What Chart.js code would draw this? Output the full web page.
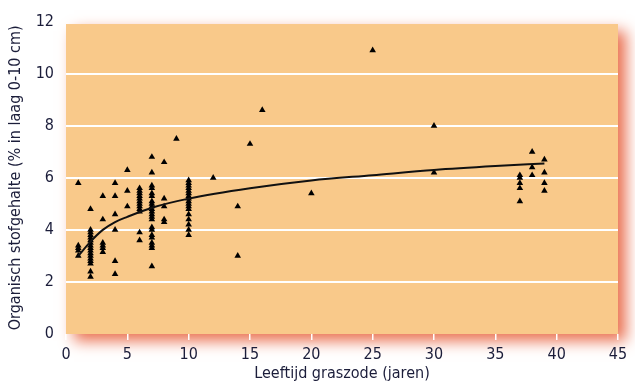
<!DOCTYPE html>
<html>
<head>
<meta charset="utf-8">
<script src="https://cdn.jsdelivr.net/npm/chart.js@4"></script>
<style>
  html, body { margin: 0; padding: 0; background: #ffffff; }
  #wrap { width: 635px; height: 385px; }
</style>
</head>
<body>
<div id="wrap"><canvas id="c" width="635" height="385"></canvas></div>
<script>
// Observed points: age of sward (years) and organic matter (% in 0-10 cm layer)
const ageYears = [
  1,1,1,1,1,
  2,2,2,2,2,2,2,2,2,2,2,2,2,2,2,2,2,
  3,3,3,3,3,3,
  4,4,4,4,4,4,
  5,5,5,
  6,6,6,6,6,6,6,6,6,6,6,6,
  7,7,7,7,7,7,7,7,7,7,7,7,7,7,7,7,7,7,7,7,7,7,
  8,8,8,8,8,
  9,
  10,10,10,10,10,10,10,10,10,10,10,10,10,10,10,10,10,
  12,
  14,14,
  15,
  16,
  20,
  25,
  30,30,
  37,37,37,37,37,
  38,38,38,
  39,39,39,39
];
const organicMatter = [
  5.8,3.4,3.3,3.2,3.0,
  4.8,4.0,3.9,3.8,3.7,3.6,3.5,3.4,3.3,3.2,3.1,3.0,2.9,2.8,2.7,2.4,2.2,
  5.3,4.4,3.5,3.4,3.3,3.15,
  5.8,5.3,4.6,4.0,2.8,2.3,
  6.3,5.5,4.9,
  5.6,5.5,5.4,5.3,5.2,5.1,5.0,4.9,4.8,4.7,3.9,3.6,
  6.8,6.2,5.7,5.6,5.4,5.3,5.1,5.0,4.9,4.8,4.7,4.6,4.5,4.4,4.1,4.0,3.8,3.7,3.5,3.4,3.3,2.6,
  6.6,5.2,4.9,4.4,4.3,
  7.5,
  5.9,5.8,5.7,5.6,5.5,5.4,5.3,5.2,5.1,5.0,4.9,4.8,4.6,4.4,4.2,4.0,3.8,
  6.0,
  4.9,3.0,
  7.3,
  8.6,
  5.4,
  10.9,
  8.0,6.2,
  6.1,6.0,5.8,5.6,5.1,
  7.0,6.4,6.1,
  6.7,6.2,5.8,5.5
];
// Trend curve
const trendAges   = [1,   2,    3,   4,   5,   7,    10,  15,  20,  25,  30,  35,   39];
const trendValues = [3.0, 3.55, 4.0, 4.3, 4.5, 4.85, 5.2, 5.6, 5.9, 6.1, 6.3, 6.45, 6.55];

const xTicks = [0,5,10,15,20,25,30,35,40,45];
const yTicks = [0,2,4,6,8,10,12];

const FONT = '"Liberation Sans Narrow", "DejaVu Sans Condensed", "Roboto Condensed", sans-serif';
const TEXT = '#1b1d3a';

const points = ageYears.map((a, i) => ({x: a, y: organicMatter[i]}));
const trend = trendAges.map((a, i) => ({x: a, y: trendValues[i]}));

const panelPlugin = {
  id: 'panel',
  beforeDraw(chart) {
    const {ctx, chartArea, scales} = chart;
    const top = scales.y.getPixelForValue(11.9);
    const left = chartArea.left, right = chartArea.right, bottom = chartArea.bottom;
    ctx.save();
    ctx.shadowColor = 'rgba(234,112,80,1)';
    ctx.shadowBlur = 14;
    ctx.shadowOffsetX = 8;
    ctx.shadowOffsetY = 7;
    ctx.fillStyle = '#f9c98a';
    ctx.fillRect(left, top, right - left, bottom - top);
    ctx.restore();
    ctx.save();
    ctx.fillStyle = '#f9c98a';
    ctx.fillRect(left, top, right - left, bottom - top);
    ctx.restore();
  }
};

new Chart(document.getElementById('c'), {
  type: 'scatter',
  data: {
    datasets: [
      {
        label: 'Metingen',
        data: points,
        pointStyle: 'triangle',
        pointRadius: 3.8,
        pointHoverRadius: 3.8,
        backgroundColor: '#000000',
        borderColor: '#000000',
        borderWidth: 0,
        order: 2
      },
      {
        label: 'Trend',
        type: 'line',
        data: trend,
        showLine: true,
        borderColor: '#111111',
        borderWidth: 2,
        pointRadius: 0,
        fill: false,
        cubicInterpolationMode: 'monotone',
        order: 1
      }
    ]
  },
  options: {
    responsive: false,
    animation: false,
    layout: { padding: { top: 20, right: 17, bottom: 2, left: 0 } },
    plugins: { legend: { display: false }, tooltip: { enabled: false } },
    scales: {
      x: {
        type: 'linear',
        min: 0, max: 45,
        afterBuildTicks(scale) { scale.ticks = xTicks.map(v => ({value: v})); },
        afterFit(scale) { scale.height = 49; },
        grid: { drawOnChartArea: false, drawTicks: true, tickLength: 6, color: '#ffffff', lineWidth: 1.5 },
        border: { display: false },
        ticks: { color: TEXT, font: { family: FONT, size: 16 }, padding: 5, maxRotation: 0 },
        title: { display: true, text: 'Leeftijd graszode (jaren)', color: TEXT, font: { family: FONT, size: 16 }, padding: { top: 3, bottom: 0 } }
      },
      y: {
        type: 'linear',
        min: 0, max: 12,
        afterBuildTicks(scale) { scale.ticks = yTicks.map(v => ({value: v})); },
        afterFit(scale) { scale.width = 66; },
        grid: {
          drawTicks: false,
          color: (c) => (c.tick && c.tick.value > 0 && c.tick.value < 12) ? '#ffffff' : 'rgba(0,0,0,0)',
          lineWidth: 2
        },
        border: { display: false },
        ticks: { color: TEXT, font: { family: FONT, size: 16 }, padding: 12 },
        title: { display: true, text: 'Organisch stofgehalte (% in laag 0-10 cm)', color: TEXT, font: { family: FONT, size: 16 }, padding: { top: 6, bottom: 0 } }
      }
    }
  },
  plugins: [panelPlugin]
});
</script>
</body>
</html>
